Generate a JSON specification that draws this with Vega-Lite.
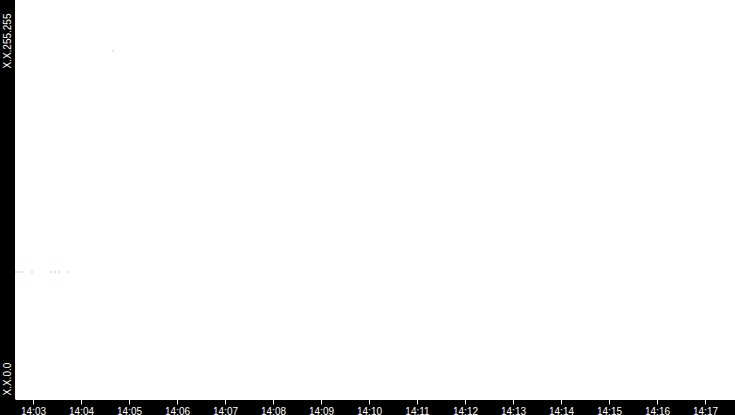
{
  "$schema": "https://vega.github.io/schema/vega-lite/v6.json",
  "description": "Address activity over time",
  "width": 720,
  "height": 399,
  "autosize": {"type": "none"},
  "padding": {"left": 15, "top": 0, "right": 0, "bottom": 16},
  "background": "black",
  "data": {
    "values": [
      {"time": "2024-01-01T14:02:38.750", "ip": 20850},
      {"time": "2024-01-01T14:02:42.500", "ip": 20850},
      {"time": "2024-01-01T14:02:46.250", "ip": 20850},
      {"time": "2024-01-01T14:02:58.750", "ip": 20850},
      {"time": "2024-01-01T14:03:22.500", "ip": 20850},
      {"time": "2024-01-01T14:03:27.500", "ip": 20850},
      {"time": "2024-01-01T14:03:32.500", "ip": 20850},
      {"time": "2024-01-01T14:03:43.750", "ip": 20850},
      {"time": "2024-01-01T14:04:40.000", "ip": 57160}
    ]
  },
  "mark": {"type": "square", "size": 1, "color": "#55bb55", "opacity": 1},
  "encoding": {
    "x": {
      "field": "time",
      "type": "temporal",
      "scale": {"domain": [{"year": 2024, "month": 1, "date": 1, "hours": 14, "minutes": 2, "seconds": 37, "milliseconds": 500}, {"year": 2024, "month": 1, "date": 1, "hours": 14, "minutes": 17, "seconds": 37, "milliseconds": 500}]},
      "axis": {
        "title": null,
        "format": "%H:%M",
        "tickCount": 15,
        "grid": false,
        "domainColor": "white",
        "tickColor": "white",
        "tickSize": 5,
        "labelColor": "white",
        "labelFont": "Liberation Sans",
        "labelFontSize": 10,
        "labelPadding": 2,
        "labelFlush": false,
        "labelOverlap": false
      }
    },
    "y": {
      "field": "ip",
      "type": "quantitative",
      "scale": {"domain": [0, 65535], "nice": false},
      "axis": {
        "title": null,
        "values": [0, 65535],
        "labelExpr": "datum.value == 0 ? 'X.X.0.0' : 'X.X.255.255'",
        "grid": false,
        "domain": false,
        "ticks": false,
        "labelAngle": 270,
        "labelColor": "white",
        "labelFont": "Liberation Sans",
        "labelFontSize": 10,
        "labelPadding": 5,
        "labelBaseline": "alphabetic",
        "labelAlign": {"condition": {"test": "datum.value == 0", "value": "left"}, "value": "right"},
        "labelOffset": {"condition": {"test": "datum.value == 0", "value": -4}, "value": 13},
        "labelOverlap": false,
        "labelFlush": false
      }
    }
  },
  "config": {
    "view": {"fill": "white", "stroke": null}
  }
}
